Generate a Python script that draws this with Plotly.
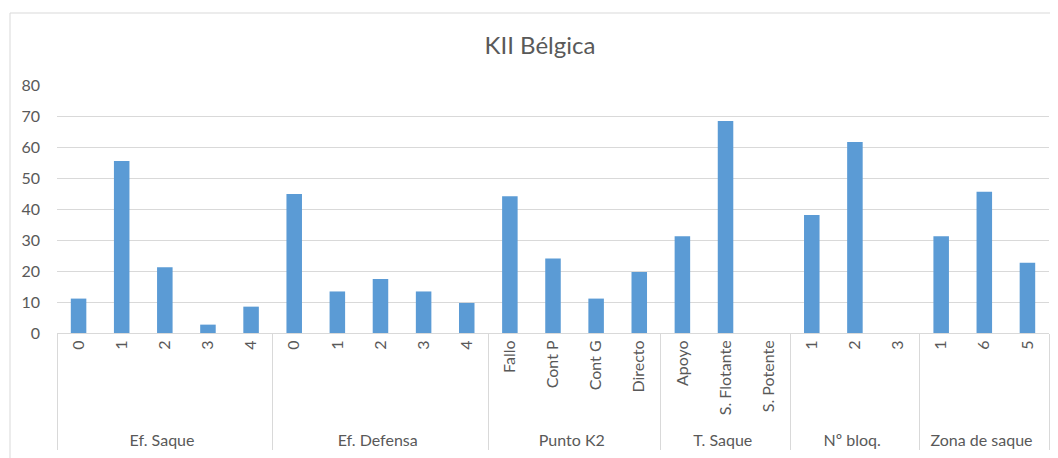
import plotly.graph_objects as go

# data
groups = ["Ef. Saque", "Ef. Defensa", "Punto K2", "T. Saque", "Nº bloq.", "Zona de saque"]
labels = [
    ["0", "1", "2", "3", "4"],
    ["0", "1", "2", "3", "4"],
    ["Fallo", "Cont P", "Cont G", "Directo"],
    ["Apoyo", "S. Flotante", "S. Potente"],
    ["1", "2", "3"],
    ["1", "6", "5"],
]
values = [
    [11.1, 55.5, 21.2, 2.7, 8.5],
    [44.8, 13.4, 17.4, 13.4, 9.7],
    [44.1, 24.0, 11.1, 19.7],
    [31.2, 68.4, 0],
    [38.1, 61.6, 0],
    [31.2, 45.6, 22.7],
]

outer = [g for g, labs in zip(groups, labels) for _ in labs]
inner = [lab for labs in labels for lab in labs]
ys = [v for vals in values for v in vals]

W, H = 1058, 458
OFF = 8  # page body margin shifts the figure by 8px
L, R, T, B = 57 - OFF, 9 + OFF, 85 - OFF, 125 + OFF
GRID = "#d9d9d9"
TEXT = "#595959"
FONT = "Lato, Carlito, sans-serif"

fig = go.Figure(go.Bar(
    x=[outer, inner],
    y=ys,
    marker=dict(color="#5B9BD5", line=dict(width=0)),
))

# chart-area border (cropped on the right and bottom like the source)
pw, ph = W - L - R, H - T - B
fig.add_shape(
    type="rect", xref="paper", yref="paper",
    x0=(10 - OFF - L) / pw, x1=(W + 20 - L) / pw,
    y0=-(H + 20 - T - ph) / ph, y1=(H - B - (13 - OFF)) / ph,
    line=dict(color=GRID, width=1), layer="below",
)

fig.update_layout(
    width=W, height=H,
    margin=dict(l=L, r=R, t=T, b=B),
    paper_bgcolor="white",
    plot_bgcolor="white",
    font=dict(family=FONT, color=TEXT, size=16),
    title=dict(text="KII Bélgica", x=(540 - OFF) / W, xanchor="center",
               y=1 - (46 - OFF) / H, yanchor="middle",
               font=dict(size=24, color=TEXT, family=FONT)),
    bargap=0.64,
    showlegend=False,
    xaxis=dict(
        type="multicategory",
        tickangle=-90,
        showline=True, linecolor=GRID, linewidth=1,
        showgrid=False,
        showdividers=True, dividercolor=GRID, dividerwidth=1,
        tickfont=dict(size=16, color=TEXT),
    ),
    yaxis=dict(
        range=[0, 80], dtick=10,
        showgrid=True, gridcolor=GRID, gridwidth=1,
        zeroline=False, showline=False,
        ticks="", ticklabelstandoff=16,
        tickfont=dict(size=16, color=TEXT),
    ),
)

fig.write_html("out.html")
